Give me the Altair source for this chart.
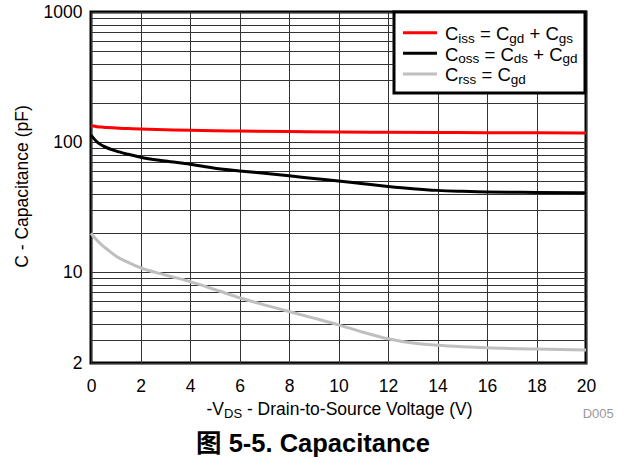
import altair as alt
import pandas as pd

# ---------------- data ----------------
x_iss = [0, 0.25, 0.5, 1, 1.5, 2, 3, 4, 5, 6, 8, 10, 12, 14, 16, 18, 20]
c_iss = [134, 131, 130, 128, 127, 126, 124.5, 123, 122, 121.5, 120.5, 119.5, 119, 118.5, 118, 117.8, 117.5]

x_oss = [0, 0.25, 0.5, 1, 1.5, 2, 3, 4, 5, 6, 7, 8, 9, 10, 11, 12, 13, 14, 15, 16, 18, 20]
c_oss = [113, 100, 93, 85.5, 80.5, 76.5, 71.5, 67.5, 63, 60, 57.5, 55, 52.5, 50.2, 47.8, 45.6, 43.8, 42.5, 41.8, 41.3, 41, 40.8]

x_rss = [0, 0.25, 0.5, 0.75, 1, 1.5, 2, 3, 4, 5, 6, 7, 8, 9, 10, 11, 12, 13, 14, 15, 16, 18, 20]
c_rss = [19.9, 17.5, 15.8, 14.5, 13.3, 11.9, 10.8, 9.5, 8.45, 7.35, 6.35, 5.6, 4.98, 4.43, 3.93, 3.45, 3.07, 2.85, 2.74, 2.67, 2.62, 2.56, 2.52]

series_names = ["Ciss", "Coss", "Crss"]
series_colors = ["#ff0000", "#000000", "#bfbfbf"]

x_ticks = [0, 2, 4, 6, 8, 10, 12, 14, 16, 18, 20]
y_grid = [2, 3, 4, 5, 6, 7, 8, 9, 10, 20, 30, 40, 50, 60, 70, 80, 90,
          100, 200, 300, 400, 500, 600, 700, 800, 900, 1000]
y_labels = [2, 10, 100, 1000]

rows = []
for name, xs, cs in zip(series_names, [x_iss, x_oss, x_rss], [c_iss, c_oss, c_rss]):
    for v, c in zip(xs, cs):
        rows.append({"series": name, "v": v, "c": c})
df = pd.DataFrame(rows)

FONT = "Liberation Sans, Arial, Noto Sans CJK SC, sans-serif"
MAIN = 17.5
SUB = 13
LEG_MAIN = 18.5
LEG_SUB = 13.5
SUBDY = 2.5

W = {' ': 278, '-': 333, '=': 584, '+': 584, '(': 333, ')': 333, '.': 278,
     'C': 722, 'D': 722, 'S': 667, 'V': 667, 'F': 611,
     'a': 556, 'c': 500, 'd': 556, 'e': 556, 'g': 556, 'i': 222, 'l': 222,
     'n': 556, 'o': 556, 'p': 556, 'r': 333, 's': 500, 't': 278, 'u': 556}


def tw(s, size):
    return sum(W.get(ch, 556) for ch in s) * size / 1000.0


one = pd.DataFrame({"k": [0]})


def txt(s, x, y, size, weight="normal", color="black", align="left", angle=None):
    kw = dict(text=s, fontSize=size, font=FONT, fontWeight=weight, color=color,
              align=align, baseline="alphabetic")
    if angle is not None:
        kw["angle"] = angle
    return alt.Chart(one).mark_text(**kw).encode(x=alt.value(x), y=alt.value(y))


def rich(segs, x0, y0, main, sub):
    layers = []
    x = x0
    for s, is_sub in segs:
        size = sub if is_sub else main
        lead = len(s) - len(s.lstrip())
        layers.append(txt(s.strip(), x + tw(s[:lead], size), y0 + (SUBDY if is_sub else 0), size))
        x += tw(s, size)
    return layers


def rich_width(segs, main, sub):
    return sum(tw(s, sub if b else main) for s, b in segs)


label_expr = "indexof([2,10,100,1000], datum.value) >= 0 ? format(datum.value, 'd') : ''"

lines = alt.Chart(df).mark_line(strokeWidth=3, interpolate="monotone").encode(
    x=alt.X("v:Q", scale=alt.Scale(domain=[0, 20], nice=False, zero=False),
            axis=alt.Axis(values=x_ticks, title=None, grid=True, gridColor="#333333", gridWidth=1,
                          domain=False, ticks=False, tickSize=0, labelPadding=14,
                          labelFontSize=MAIN, labelFont=FONT, labelColor="black",
                          labelFlush=False, labelOverlap=False)),
    y=alt.Y("c:Q", scale=alt.Scale(type="log", domain=[2, 1000], nice=False),
            axis=alt.Axis(values=y_grid, title=None, grid=True, gridColor="#333333", gridWidth=1,
                          domain=False, ticks=False, tickSize=0, labelPadding=9,
                          labelFontSize=MAIN, labelFont=FONT, labelColor="black",
                          labelFlush=False, labelOverlap=False, labelExpr=label_expr)),
    color=alt.Color("series:N", scale=alt.Scale(domain=series_names, range=series_colors), legend=None),
)

layers = [lines]

# legend box
layers.append(alt.Chart(one).mark_rect(fill="white", stroke="black", strokeWidth=3).encode(
    x=alt.value(303), x2=alt.value(494), y=alt.value(0), y2=alt.value(81)))

leg_rows = [
    [("C", 0), ("iss", 1), (" = C", 0), ("gd", 1), (" + C", 0), ("gs", 1)],
    [("C", 0), ("oss", 1), (" = C", 0), ("ds", 1), (" + C", 0), ("gd", 1)],
    [("C", 0), ("rss", 1), (" = C", 0), ("gd", 1)],
]
line_y = [20.7, 41.3, 62.0]
for segs, ly, col in zip(leg_rows, line_y, series_colors):
    layers.append(alt.Chart(one).mark_rule(color=col, strokeWidth=3).encode(
        x=alt.value(312), x2=alt.value(346), y=alt.value(ly)))
    layers += rich(segs, 354, ly + 7.3, LEG_MAIN, LEG_SUB)

# x axis title
xt = [("-V", 0), ("DS", 1), (" - Drain-to-Source Voltage (V)", 0)]
layers += rich(xt, 249 - rich_width(xt, MAIN, SUB) / 2, 403, MAIN, SUB)

# y axis title
layers.append(txt("C - Capacitance (pF)", -63, 174.5, MAIN, align="center", angle=270))

# D005 tag
layers.append(txt("D005", 491.7, 406, 13, color="#999999"))

# caption
layers.append(txt("图 5-5. Capacitance", 222, 439.5, 25.5, weight="bold", align="center"))

chart = alt.layer(*layers).properties(
    width=495, height=351,
    autosize=alt.AutoSizeParams(type="none"),
    padding={"left": 91, "top": 12, "right": 38, "bottom": 100},
    background="white",
).configure_view(stroke="black", strokeWidth=3)

chart.save("out.html", embed_options={"renderer": "svg", "actions": False})
